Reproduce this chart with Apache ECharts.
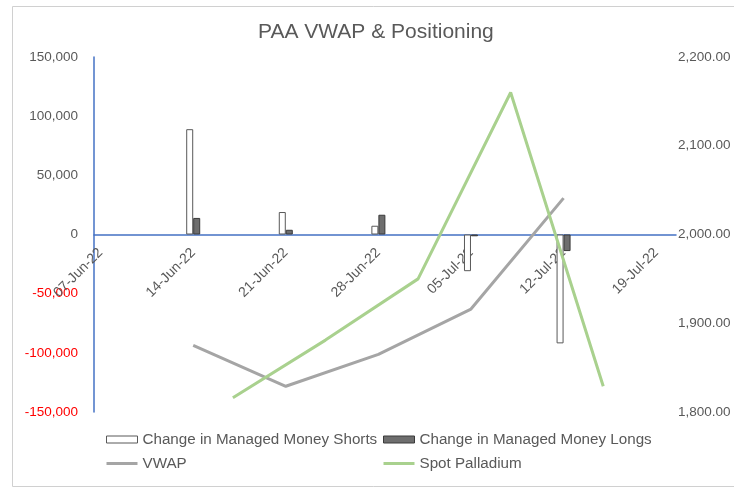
<!DOCTYPE html>
<html>
<head>
    <meta charset="UTF-8">
    <title>PAA VWAP & Positioning</title>
    <script src="https://cdn.jsdelivr.net/npm/echarts@6/dist/echarts.min.js"></script>
    <style>
        html, body { margin: 0; padding: 0; background: #fff; }
    </style>
</head>
<body>
    <div id="main" style="width:734px;height:493px;"></div>
    <script>
        // weekly COT dates (Tuesdays) and spot dates (Fridays)
        var axisStart = '2022-06-07';
        var axisDays = 44;
        var tickLabelDates = ['2022-06-07', '2022-06-14', '2022-06-21', '2022-06-28', '2022-07-05', '2022-07-12', '2022-07-19'];
        var cotDates = ['2022-06-14', '2022-06-21', '2022-06-28', '2022-07-05', '2022-07-12'];
        var shortsChange = [89000, 19000, 7400, -31000, -92000];
        var longsChange = [14000, 4000, 16700, -1500, -14000];
        var vwap = [1875, 1829, 1865, 1916, 2041];
        var spotDates = ['2022-06-17', '2022-06-24', '2022-07-01', '2022-07-08', '2022-07-15'];
        var spotPalladium = [1816, 1881, 1950, 2160, 1829];

        var MONTHS = ['Jan', 'Feb', 'Mar', 'Apr', 'May', 'Jun', 'Jul', 'Aug', 'Sep', 'Oct', 'Nov', 'Dec'];
        var baseMs = Date.parse(axisStart + 'T00:00:00Z');

        // day slot centre, like an Excel date axis
        function dayPos(d) {
            return (Date.parse(d + 'T00:00:00Z') - baseMs) / 864e5 + 0.5;
        }
        function fmtDate(v) {
            var dt = new Date(baseMs + Math.floor(v) * 864e5);
            var dd = dt.getUTCDate();
            return (dd < 10 ? '0' + dd : dd) + '-' + MONTHS[dt.getUTCMonth()] + '-' + String(dt.getUTCFullYear()).slice(2);
        }
        function pairs(dates, vals) {
            return dates.map(function (d, i) { return [dayPos(d), vals[i]]; });
        }

        var grey = '#595959';
        var blue = '#4472C4';
        var font = 'Liberation Sans, Arial, sans-serif';
        var gridTop = 57, gridBottom = 81, chartH = 493;
        var plotH = chartH - gridTop - gridBottom;
        var yMin = -150000, yMax = 150000;
        // date labels sit on the zero line, not on the plot bottom
        var zeroOffset = -plotH * (0 - yMin) / (yMax - yMin);

        var lineLegendStyle = { color: 'rgba(0,0,0,0)', borderColor: 'rgba(0,0,0,0)', borderWidth: 0 };

        var myChart = echarts.init(document.getElementById('main'));
        var option = {
            animation: false,
            backgroundColor: '#fff',
            graphic: [{
                type: 'rect',
                shape: { x: 12.5, y: 6.5, width: 760, height: 480 },
                style: { fill: 'none', stroke: '#d0d0d0', lineWidth: 1 },
                silent: true
            }],
            title: {
                text: 'PAA VWAP & Positioning',
                left: 253,
                top: 17,
                textStyle: { color: grey, fontSize: 21, fontWeight: 'normal', fontFamily: font }
            },
            legend: [{
                data: [
                    { name: 'Change in Managed Money Shorts', icon: 'rect', itemStyle: { borderWidth: 1 } },
                    { name: 'VWAP', itemStyle: lineLegendStyle, lineStyle: { width: 3 } }
                ],
                orient: 'vertical',
                left: 100,
                top: 427,
                itemGap: 9,
                itemWidth: 31,
                itemHeight: 7,
                textStyle: { color: grey, fontSize: 15.2, fontFamily: font }
            }, {
                data: [
                    { name: 'Change in Managed Money Longs', icon: 'rect', itemStyle: { borderWidth: 1 } },
                    { name: 'Spot Palladium', itemStyle: lineLegendStyle, lineStyle: { width: 3 } }
                ],
                orient: 'vertical',
                left: 377,
                top: 427,
                itemGap: 9,
                itemWidth: 31,
                itemHeight: 7,
                textStyle: { color: grey, fontSize: 15.2, fontFamily: font }
            }],
            grid: { left: 94, right: 58, top: gridTop, bottom: gridBottom, containLabel: false },
            xAxis: [{
                type: 'value',
                min: 0,
                max: axisDays,
                interval: 7,
                axisLine: { show: true, onZero: true, onZeroAxisIndex: 0, lineStyle: { color: blue, width: 1.5 } },
                axisTick: { show: false },
                splitLine: { show: false },
                axisLabel: { show: false }
            }, {
                type: 'value',
                min: 0,
                max: axisDays,
                interval: 7,
                position: 'bottom',
                offset: zeroOffset,
                axisLine: { show: false, onZero: false },
                axisTick: { show: false },
                splitLine: { show: false },
                axisLabel: {
                    customValues: tickLabelDates.map(dayPos),
                    formatter: fmtDate,
                    rotate: 45,
                    margin: 16,
                    color: grey,
                    fontSize: 14,
                    fontFamily: font
                }
            }],
            yAxis: [{
                type: 'value',
                min: yMin,
                max: yMax,
                interval: 50000,
                position: 'left',
                axisLine: { show: true, onZero: false, lineStyle: { color: blue, width: 1.5 } },
                axisTick: { show: false },
                splitLine: { show: false },
                axisLabel: {
                    margin: 16,
                    fontSize: 13.5,
                    fontFamily: font,
                    formatter: function (v) { return Number(v).toLocaleString('en-US'); },
                    color: function (v) { return Number(v) < 0 ? '#FF0000' : grey; }
                }
            }, {
                type: 'value',
                min: 1800,
                max: 2200,
                interval: 100,
                position: 'right',
                axisLine: { show: false },
                axisTick: { show: false },
                splitLine: { show: false },
                axisLabel: {
                    margin: 2,
                    color: grey,
                    fontSize: 13.5,
                    fontFamily: font,
                    formatter: function (v) { return Number(v).toLocaleString('en-US', { minimumFractionDigits: 2, maximumFractionDigits: 2 }); }
                }
            }],
            series: [{
                name: 'Change in Managed Money Shorts',
                type: 'bar',
                yAxisIndex: 0,
                barWidth: 7,
                barGap: '0%',
                itemStyle: { color: '#ffffff', borderColor: grey, borderWidth: 1 },
                data: pairs(cotDates, shortsChange)
            }, {
                name: 'Change in Managed Money Longs',
                type: 'bar',
                yAxisIndex: 0,
                barWidth: 7,
                barGap: '0%',
                itemStyle: { color: '#6e6e6e', borderColor: '#3a3a3a', borderWidth: 1 },
                data: pairs(cotDates, longsChange)
            }, {
                name: 'VWAP',
                type: 'line',
                yAxisIndex: 1,
                symbol: 'none',
                lineStyle: { color: '#A5A5A5', width: 3 },
                itemStyle: { color: '#A5A5A5' },
                data: pairs(cotDates, vwap)
            }, {
                name: 'Spot Palladium',
                type: 'line',
                yAxisIndex: 1,
                symbol: 'none',
                lineStyle: { color: '#A9D18E', width: 3 },
                itemStyle: { color: '#A9D18E' },
                data: pairs(spotDates, spotPalladium)
            }]
        };
        myChart.setOption(option);
    </script>
</body>
</html>
